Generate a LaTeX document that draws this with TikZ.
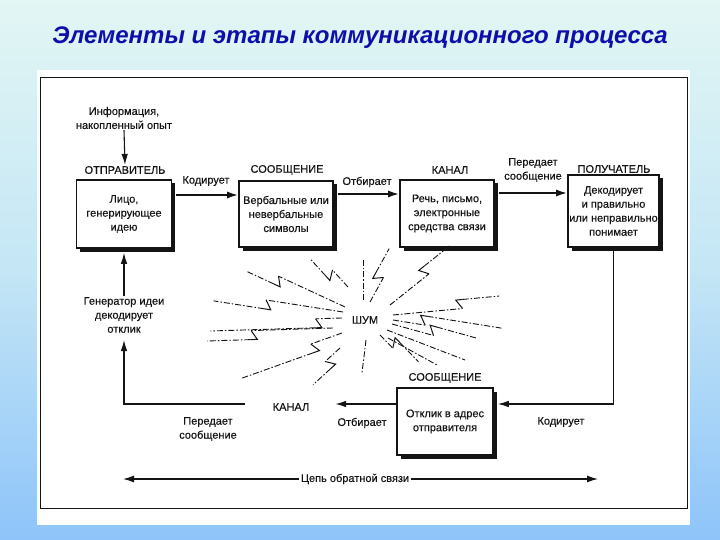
\documentclass[tikz,border=0pt]{standalone}
\usepackage{fontspec}
\setmainfont{Liberation Sans}
\newfontfamily\diagfont{Liberation Sans}[FakeBold=0.25]
\usetikzlibrary{calc,arrows.meta,shadows}
\definecolor{titleblue}{RGB}{14,14,170}
\definecolor{bgtop}{RGB}{226,246,244}
\definecolor{bgmid}{RGB}{196,230,245}
\definecolor{bgbot}{RGB}{142,196,250}
\definecolor{ink}{RGB}{20,20,20}
\newcommand{\noiseray}[3]{%
  \coordinate (rs) at #1; \coordinate (re) at #2;
  \coordinate (rz) at ($(rs)!#3!(re)$);
  \coordinate (rb0) at ($(rz)!6pt!(rs)$);
  \coordinate (rb) at ($(rb0)!9pt!90:(re)$);
  \coordinate (re2) at ($(re)!9pt!-90:(rs)$);
  \coordinate (rc) at ($(rb)!7pt!(re2)$);
  \draw[noiseline] (rs) -- (rz);
  \draw[zigline] (rz) -- (rb) -- (rc);
  \draw[noiseline] (rc) -- (re2);
}
\begin{document}
\begin{tikzpicture}[x=1pt,y=-1pt,
  txt/.style={font=\diagfont\fontsize{11}{14}\selectfont, text=ink, align=center, inner sep=1pt},
  mainbox/.style={draw=ink, line width=1.6pt, fill=white, align=center, inner sep=1pt,
    font=\diagfont\fontsize{11}{14}\selectfont, text=ink,
    drop shadow={shadow xshift=3.5pt, shadow yshift=-3.5pt, fill=ink, opacity=1}},
  flow/.style={draw=ink, line width=1.8pt, -{Latex[length=11pt,width=7pt]}},
  fb/.style={draw=ink, line width=1.1pt},
  fbarrow/.style={draw=ink, line width=1.1pt, -{Latex[length=11pt,width=6.5pt]}},
  noiseline/.style={draw=ink, line width=0.9pt, dash pattern=on 6pt off 2pt on 1.5pt off 2pt},
  zigline/.style={draw=ink, line width=1pt, line join=miter},
]
\useasboundingbox (0,0) rectangle (720,540);
\shade[top color=bgtop, bottom color=bgbot, middle color=bgmid] (0,0) rectangle (720,540);
\node[font=\fontsize{24}{29}\selectfont\bfseries\itshape, text=titleblue] (title) at (360,38) {Элементы и этапы коммуникационного процесса};
\fill[white] (37,70) rectangle (690,525);
\draw[ink, line width=0.8pt] (40,77) rectangle (687,508);

% boxes
\node[mainbox, minimum width=95pt, minimum height=68pt] (b1) at (124,214) {Лицо,\\генерирующее\\идею};
\node[mainbox, minimum width=94pt, minimum height=66pt] (b2) at (286,214) {Вербальные или\\невербальные\\символы};
\node[mainbox, minimum width=94pt, minimum height=67pt] (b3) at (447,213.5) {Речь, письмо,\\электронные\\средства связи};
\node[mainbox, minimum width=91pt, minimum height=72pt] (b4) at (613.5,211) {Декодирует\\и правильно\\или неправильно\\понимает};
\node[mainbox, minimum width=96pt, minimum height=67pt] (b5) at (445,421.5) {Отклик в адрес\\отправителя};

% labels
\node[txt] (l1) at (125,170) {ОТПРАВИТЕЛЬ};
\node[txt] (l2) at (287,170) {СООБЩЕНИЕ};
\node[txt] (l3) at (450,170) {КАНАЛ};
\node[txt] (l4) at (614,169) {ПОЛУЧАТЕЛЬ};
\node[txt] (l5) at (445,378) {СООБЩЕНИЕ};
\node[txt] (info) at (124,118) {Информация,\\накопленный опыт};
\node[txt] (kod1) at (206,181) {Кодирует};
\node[txt] (otb1) at (367,182) {Отбирает};
\node[txt] (per1) at (533,170) {Передает\\сообщение};
\node[txt] (kod2) at (561,422) {Кодирует};
\node[txt] (otb2) at (362,423) {Отбирает};
\node[txt] (kan2) at (291,407) {КАНАЛ};
\node[txt] (per2) at (208,429) {Передает\\сообщение};
\node[txt] (gen) at (124,315) {Генератор идеи\\декодирует\\отклик};
\node[txt] (noise) at (365,320) {ШУМ};

% top flow
\coordinate (r1) at (0,195);
\coordinate (r2) at (0,194);
\coordinate (r3) at (0,193);
\draw[fbarrow] (info.south) -- (l1.north);
\draw[flow] ($(b1.east |- r1)+(4,0)$) -- (b2.west |- r1);
\draw[flow] ($(b2.east |- r2)+(4,0)$) -- (b3.west |- r2);
\draw[flow] ($(b3.east |- r3)+(4,0)$) -- (b4.west |- r3);

% feedback
\coordinate (k1) at (613.5,404);
\coordinate (k2) at (335,404);
\coordinate (k3) at (245,404);
\coordinate (k4) at (124,404);
\coordinate (k5) at (124,340);
\draw[fb] ($(b4.south)+(0,3)$) -- (k1);
\draw[fbarrow] (k1) -- ($(b5.east |- k1)+(4,0)$);
\draw[fbarrow, line width=1.5pt] (b5.west |- k1) -- (k2);
\draw[fbarrow] (k3) -- (k4) -- (k5);
\draw[fbarrow] (gen.north) -- ($(b1.south)+(0,4)$);

% feedback loop arrow
\coordinate (f1) at (123,479);
\coordinate (f2) at (598,479);
\draw[ink, line width=1.3pt, {Latex[length=11pt,width=7pt]}-{Latex[length=11pt,width=7pt]}] (f1) -- (f2);
\node[txt, fill=white, inner sep=2pt] (cep) at (355,479) {Цепь обратной связи};

% noise rays
\noiseray{(348,287)}{(317,253)}{0.5}
\noiseray{(345,307)}{(250,263)}{0.7}
\noiseray{(343,312)}{(215,292)}{0.6}
\noiseray{(342,318)}{(210,322)}{0.2}
\noiseray{(333,328)}{(207,332)}{0.65}
\noiseray{(342,333)}{(238,370)}{0.3}
\noiseray{(340,348)}{(307,378)}{0.45}
\draw[noiseline] (363,300) -- (363,258);
\draw[noiseline] (366,340) -- (362,373);
\noiseray{(370,302)}{(397,253)}{0.5}
\noiseray{(390,305)}{(455,253)}{0.6}
\noiseray{(393,315)}{(500,305)}{0.65}
\noiseray{(393,320)}{(500,337)}{0.3}
\noiseray{(392,324)}{(475,347)}{0.5}
\draw[noiseline] (387,330) -- (465,360);
\noiseray{(380,335)}{(412,368)}{0.4}
\draw[noiseline] (388,338) -- (437,365);
\end{tikzpicture}
\end{document}
